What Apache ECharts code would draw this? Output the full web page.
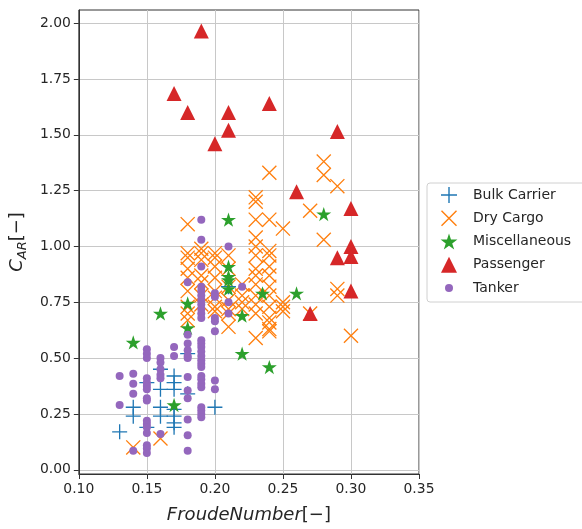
<!DOCTYPE html>
<html>
<head>
<meta charset="utf-8">
<script src="https://cdn.jsdelivr.net/npm/echarts@6.0.0/dist/echarts.min.js"></script>
<style>
  html, body { margin: 0; padding: 0; background: #fff; }
  #chart { width: 582px; height: 529px; }
</style>
</head>
<body>
<div id="chart"></div>
<script>
// values, [Froude number, C_AR]
const bulkCarrier = [
  [0.13, 0.17], [0.14, 0.28], [0.14, 0.24], [0.15, 0.39], [0.15, 0.19],
  [0.16, 0.45], [0.16, 0.36], [0.16, 0.28], [0.16, 0.24], [0.17, 0.42],
  [0.17, 0.39], [0.17, 0.36], [0.17, 0.27], [0.17, 0.24], [0.17, 0.21],
  [0.17, 0.19], [0.18, 0.52], [0.18, 0.34], [0.20, 0.28], [0.21, 0.82]
]
const dryCargo = [
  [0.14, 0.10], [0.16, 0.14],
  [0.18, 1.10], [0.18, 0.97], [0.18, 0.95], [0.18, 0.90], [0.18, 0.86], [0.18, 0.80], [0.18, 0.73], [0.18, 0.70], [0.18, 0.67],
  [0.19, 0.99], [0.19, 0.97], [0.19, 0.94], [0.19, 0.87], [0.19, 0.84], [0.19, 0.78], [0.19, 0.74],
  [0.20, 0.97], [0.20, 0.95], [0.20, 0.91], [0.20, 0.86], [0.20, 0.80], [0.20, 0.77], [0.20, 0.73], [0.20, 0.71],
  [0.21, 0.96], [0.21, 0.90], [0.21, 0.82], [0.21, 0.76], [0.21, 0.72], [0.21, 0.70], [0.21, 0.64],
  [0.22, 0.83], [0.22, 0.78], [0.22, 0.75], [0.22, 0.72],
  [0.23, 1.22], [0.23, 1.20], [0.23, 1.12], [0.23, 1.04], [0.23, 1.00], [0.23, 0.96], [0.23, 0.90],
  [0.23, 0.87], [0.23, 0.83], [0.23, 0.78], [0.23, 0.74], [0.23, 0.70], [0.23, 0.59],
  [0.24, 1.33], [0.24, 1.12], [0.24, 0.98], [0.24, 0.96], [0.24, 0.91], [0.24, 0.87], [0.24, 0.82],
  [0.24, 0.78], [0.24, 0.73], [0.24, 0.68], [0.24, 0.66], [0.24, 0.63], [0.24, 0.62],
  [0.25, 1.08], [0.25, 0.75], [0.25, 0.73], [0.25, 0.71],
  [0.27, 1.16], [0.27, 0.70],
  [0.28, 1.38], [0.28, 1.32], [0.28, 1.03],
  [0.29, 1.27], [0.29, 0.81], [0.29, 0.78],
  [0.30, 0.60]
]
const miscellaneous = [
  [0.14, 0.57], [0.16, 0.70], [0.17, 0.29], [0.18, 0.745], [0.18, 0.635],
  [0.21, 1.12], [0.21, 0.91], [0.21, 0.865], [0.21, 0.85], [0.21, 0.81],
  [0.22, 0.69], [0.22, 0.52], [0.235, 0.79], [0.24, 0.46], [0.26, 0.79], [0.28, 1.145]
]
const passenger = [
  [0.19, 1.965], [0.17, 1.685], [0.18, 1.60], [0.21, 1.60], [0.24, 1.64],
  [0.21, 1.52], [0.20, 1.46], [0.29, 1.515], [0.26, 1.245], [0.30, 1.17],
  [0.30, 1.00], [0.29, 0.95], [0.30, 0.955], [0.30, 0.80], [0.27, 0.70]
]
const tanker = [
  [0.13, 0.42], [0.13, 0.29],
  [0.14, 0.43], [0.14, 0.385], [0.14, 0.34], [0.14, 0.085],
  [0.15, 0.54], [0.15, 0.52], [0.15, 0.50], [0.15, 0.41], [0.15, 0.39], [0.15, 0.375], [0.15, 0.36],
  [0.15, 0.32], [0.15, 0.31], [0.15, 0.22], [0.15, 0.205], [0.15, 0.19], [0.15, 0.165],
  [0.15, 0.11], [0.15, 0.095], [0.15, 0.075],
  [0.16, 0.50], [0.16, 0.48], [0.16, 0.45], [0.16, 0.425], [0.16, 0.41], [0.16, 0.16],
  [0.17, 0.55], [0.17, 0.51],
  [0.18, 0.84], [0.18, 0.605], [0.18, 0.565], [0.18, 0.535], [0.18, 0.51], [0.18, 0.50],
  [0.18, 0.415], [0.18, 0.355], [0.18, 0.32], [0.18, 0.225], [0.18, 0.155], [0.18, 0.085],
  [0.19, 1.12], [0.19, 1.03], [0.19, 0.91], [0.19, 0.82], [0.19, 0.80], [0.19, 0.78], [0.19, 0.76],
  [0.19, 0.74], [0.19, 0.72], [0.19, 0.70], [0.19, 0.68], [0.19, 0.58], [0.19, 0.565], [0.19, 0.55],
  [0.19, 0.53], [0.19, 0.51], [0.19, 0.49], [0.19, 0.475], [0.19, 0.46], [0.19, 0.42], [0.19, 0.405],
  [0.19, 0.385], [0.19, 0.37], [0.19, 0.28], [0.19, 0.265], [0.19, 0.25], [0.19, 0.235],
  [0.20, 0.79], [0.20, 0.775], [0.20, 0.68], [0.20, 0.665], [0.20, 0.62], [0.20, 0.40], [0.20, 0.36],
  [0.21, 1.00], [0.21, 0.75], [0.21, 0.70],
  [0.22, 0.82]
]

const seriesNames = ['Bulk Carrier', 'Dry Cargo', 'Miscellaneous', 'Passenger', 'Tanker']
const xTicks = [0.10, 0.15, 0.20, 0.25, 0.30, 0.35]
const yTicks = [0.00, 0.25, 0.50, 0.75, 1.00, 1.25, 1.50, 1.75, 2.00]

const FONT = '"DejaVu Sans", sans-serif'

// marker shapes like matplotlib's +, x, *, ^ and .
const PLUS = 'path://M0 7.3 H16 V8.7 H0 Z M7.3 0 H8.7 V16 H7.3 Z'
const CROSS = 'path://M0 1 L1 0 L16 15 L15 16 Z M15 0 L16 1 L1 16 L0 15 Z'
const STAR = 'path://M100 0 L122.5 69.1 L195.1 69.1 L136.3 111.8 L158.8 180.9 L100 138.2 L41.2 180.9 L63.7 111.8 L4.9 69.1 L77.5 69.1 Z'
const TRIANGLE = 'path://M8 0 L16 16 L0 16 Z'
const DOT = 'path://M0 0 M16 16 M4 8 A4 4 0 1 0 12 8 A4 4 0 1 0 4 8 Z'

// legend icons: same shapes centred in the full 38x16 icon box
const legendIcons = [
  'path://M0 0 M38 16 M11 7.3 H27 V8.7 H11 Z M18.3 0 H19.7 V16 H18.3 Z',
  'path://M0 0 M38 16 M11 1 L12 0 L27 15 L26 16 Z M26 0 L27 1 L12 16 L11 15 Z',
  'path://M0 0 M38 16 M19 0 L20.99 6.11 L27.41 6.11 L22.21 9.89 L24.2 16 L19 12.23 L13.8 16 L15.79 9.89 L10.59 6.11 L17.01 6.11 Z',
  'path://M0 0 M38 16 M19 0 L27 16 L11 16 Z',
  'path://M0 0 M38 16 M15 8 A4 4 0 1 0 23 8 A4 4 0 1 0 15 8 Z'
]

function makeSeries(name, data, symbol, size, color) {
  return {
    name: name,
    type: 'scatter',
    data: data,
    symbol: symbol,
    symbolSize: size,
    symbolKeepAspect: true,
    itemStyle: { color: color, opacity: 1 },
    emphasis: { disabled: true }
  }
}

const chart = echarts.init(document.getElementById('chart'))

const option = {
  animation: false,
  textStyle: { fontFamily: FONT },
  grid: {
    left: 77, right: 163, top: 10, bottom: 54,
    show: true, borderColor: '#333', borderWidth: 1, backgroundColor: '#fff'
  },
  legend: {
    data: seriesNames.map((name, i) => ({ name: name, icon: legendIcons[i] })),
    orient: 'vertical',
    left: 427, top: 183,
    padding: [4, 40, 6, 3],
    itemWidth: 38, itemHeight: 16, itemGap: 7.25,
    selectedMode: false,
    borderColor: '#d0d0d0', borderWidth: 1, borderRadius: 3,
    backgroundColor: '#fff',
    textStyle: { fontFamily: FONT, fontSize: 14, color: '#262626' }
  },
  xAxis: {
    type: 'value',
    min: 0.10, max: 0.35, interval: 0.05,
    name: '{i|FroudeNumber}{n|[−]}',
    nameLocation: 'middle', nameGap: 32,
    nameTextStyle: {
      rich: {
        i: { fontFamily: FONT, fontStyle: 'italic', fontSize: 18, color: '#262626' },
        n: { fontFamily: FONT, fontSize: 18, color: '#262626' }
      }
    },
    axisLine: { show: true, onZero: false, lineStyle: { color: '#333', width: 1 } },
    axisTick: { show: true, length: 5, lineStyle: { color: '#333' } },
    axisLabel: {
      margin: 8, fontSize: 13.9, color: '#262626', fontFamily: FONT,
      formatter: v => v.toFixed(2)
    },
    splitLine: { show: true, lineStyle: { color: '#c8c8c8', width: 1 } }
  },
  yAxis: {
    type: 'value',
    min: -0.019, max: 2.059,
    name: '{i|C}{s|AR}{n|[−]}',
    nameLocation: 'middle', nameGap: 46, nameRotate: 90,
    nameTextStyle: {
      rich: {
        i: { fontFamily: FONT, fontStyle: 'italic', fontSize: 18, lineHeight: 24, color: '#262626' },
        s: { fontFamily: FONT, fontStyle: 'italic', fontSize: 13, lineHeight: 14, verticalAlign: 'bottom', color: '#262626' },
        n: { fontFamily: FONT, fontSize: 18, lineHeight: 24, color: '#262626' }
      }
    },
    axisLine: { show: true, onZero: false, lineStyle: { color: '#333', width: 1 } },
    axisTick: { show: true, length: 5, customValues: yTicks, lineStyle: { color: '#333' } },
    axisLabel: {
      customValues: yTicks,
      margin: 8, fontSize: 13.9, color: '#262626', fontFamily: FONT,
      formatter: v => v.toFixed(2)
    },
    splitLine: { show: true, lineStyle: { color: '#c8c8c8', width: 1 } }
  },
  series: [
    makeSeries('Bulk Carrier', bulkCarrier, PLUS, 15, '#1f77b4'),
    makeSeries('Dry Cargo', dryCargo, CROSS, 15, '#ff7f0e'),
    makeSeries('Miscellaneous', miscellaneous, STAR, 15, '#2ca02c'),
    makeSeries('Passenger', passenger, TRIANGLE, 15, '#d62728'),
    makeSeries('Tanker', tanker, DOT, 16, '#9467bd')
  ]
}

chart.setOption(option)
</script>
</body>
</html>
